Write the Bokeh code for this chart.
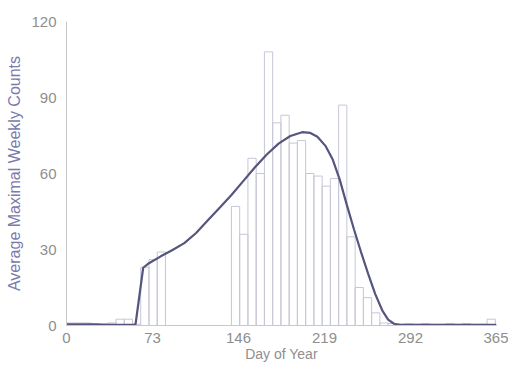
from bokeh.plotting import figure
from bokeh.models import FixedTicker, ColumnDataSource
from bokeh.embed import file_html
from bokeh.resources import INLINE

# Weekly bins (start day of each 7-day bin)
week_start = [7 * i for i in range(52)]
week_counts = [
    1, 1, 1, 0.8, 0.5, 1, 2.5, 2.5, 0.5, 23,
    26, 29, 0, 0, 0, 0, 0, 0, 0, 0,
    47, 36, 66, 60, 108, 80, 83, 72, 73, 60,
    59, 55, 58, 87, 35, 15, 11, 5, 1, 0.8,
    0.5, 0.8, 0.5, 0.8, 0.5, 0.5, 0.8, 0.5, 0.8, 0.5,
    0.5, 2.5,
]

# Smoothed fit curve
curve_day = [0, 20, 40, 57, 58.6, 65.1, 70, 80, 90, 100, 110, 120, 130, 140,
             150, 160, 170, 180, 190, 200, 207, 213, 220, 226, 232, 238, 244,
             250, 256, 262, 268, 273, 278, 283, 300, 330, 365]
curve_val = [0.5, 0.5, 0.3, 0.3, 0.5, 22.8, 24.6, 27.3, 29.8, 32.5, 36.5, 41.5,
             46.5, 51.5, 57.0, 62.5, 67.5, 71.8, 74.8, 76.3, 76.0, 74.5, 70.8,
             65.5, 57.5, 47.5, 38.0, 29.0, 20.5, 12.5, 6.0, 2.3, 0.7, 0.3, 0.3,
             0.3, 0.3]

x_ticks = [0, 73, 146, 219, 292, 365]
y_ticks = [0, 30, 60, 90, 120]

p = figure(width=508, height=364, x_range=(0, 365), y_range=(0, 120),
           output_backend="svg", toolbar_location=None,
           min_border_left=66, min_border_right=12, min_border_top=21,
           min_border_bottom=38)
p.outline_line_color = None
p.xgrid.visible = False
p.ygrid.visible = False
p.background_fill_color = "white"

src = ColumnDataSource(dict(
    left=week_start,
    right=[s + 7 for s in week_start],
    top=week_counts,
    bottom=[0] * len(week_start),
))
p.quad(left="left", right="right", top="top", bottom="bottom", source=src,
       fill_color="white", fill_alpha=0.0, line_color="#c6c6d8", line_width=1)

p.line(curve_day, curve_val, line_color="#55557e", line_width=2.2)

font = "Liberation Sans"
for ax in (p.xaxis[0], p.yaxis[0]):
    ax.axis_line_color = "#c8c8c8"
    ax.major_tick_line_color = None
    ax.minor_tick_line_color = None
    ax.major_label_text_font = font
    ax.major_label_text_font_size = "15px"
    ax.major_label_text_color = "#8e8e8e"
    ax.axis_label_text_font = font
    ax.axis_label_text_font_style = "normal"
    ax.axis_label_text_font_size = "15px"

p.xaxis.ticker = FixedTicker(ticks=x_ticks)
p.yaxis.ticker = FixedTicker(ticks=y_ticks)
p.xaxis.axis_label = "Day of Year"
p.yaxis.axis_label = "Average Maximal Weekly Counts"
p.xaxis.axis_label_text_color = "#8e8e8e"
p.yaxis.axis_label_text_color = "#7a7aae"
p.xaxis.major_label_standoff = 1
p.yaxis.major_label_standoff = 4
p.xaxis.axis_label_standoff = 0
p.yaxis.axis_label_standoff = 5
p.xaxis.axis_label_text_font_size = "14px"
p.yaxis.axis_label_text_font_size = "16px"

open("out.html", "w").write(file_html(p, INLINE))
